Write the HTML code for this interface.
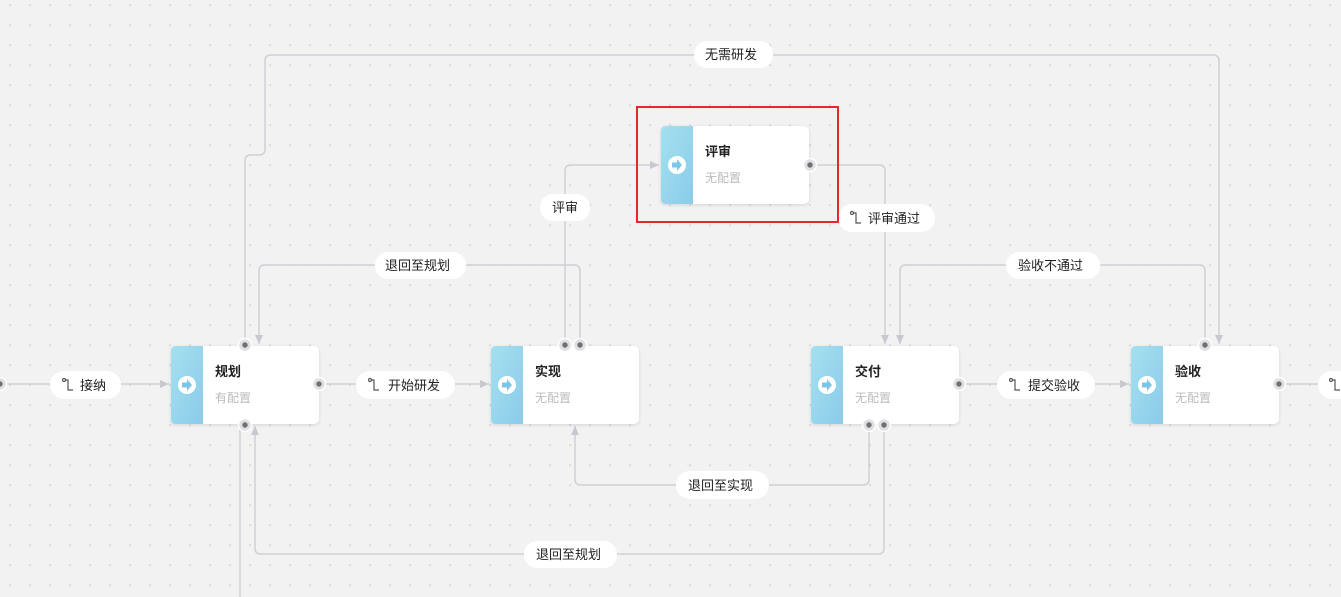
<!DOCTYPE html>
<html><head><meta charset="utf-8"><style>
html,body{margin:0;padding:0;width:1341px;height:597px;overflow:hidden;background:#f2f2f2;}
svg{display:block}
text{font-family:"Liberation Sans","Noto Sans CJK SC",sans-serif;}
</style></head><body>
<svg width="1341" height="597" xmlns="http://www.w3.org/2000/svg">
<defs>
<pattern id="dots" x="0" y="0" width="20" height="20" patternUnits="userSpaceOnUse">
<rect x="9.4" y="4.4" width="1.5" height="1.5" fill="#cacaca"/></pattern>
<linearGradient id="g" x1="0" y1="0" x2="1" y2="1"><stop offset="0" stop-color="#a3e1f0"/><stop offset="1" stop-color="#8ccbe9"/></linearGradient>
<filter id="sh" x="-10%" y="-10%" width="120%" height="130%"><feDropShadow dx="0" dy="1" stdDeviation="1.5" flood-color="#000" flood-opacity="0.12"/></filter>
<marker id="a" markerWidth="10" markerHeight="10" refX="9" refY="4" orient="auto" markerUnits="userSpaceOnUse"><path d="M0,0 L9,4 L0,8 z" fill="#c8c8d0"/></marker>
<g id="pt"><circle cx="0" cy="0" r="6.5" fill="#e0e0e0" stroke="#fff" stroke-width="1.5"/><circle cx="0" cy="0" r="2.7" fill="#6f6f78"/></g>
<g id="ei" fill="none" stroke-width="1.2"><circle cx="0" cy="0" r="1.5" stroke="#555"/><path d="M1.5,0 H4 V10 H9" stroke="#555"/></g>
</defs>
<rect width="1341" height="597" fill="url(#dots)"/>
<g fill="none" stroke="#cfcfd6" stroke-width="1.5">
<path d="M0,384 H169" marker-end="url(#a)"/>
<path d="M320,384 H489" marker-end="url(#a)"/>
<path d="M960,384 H1129" marker-end="url(#a)"/>
<path d="M1280,384 H1330"/>
<path d="M565,345 V171 Q565,165 571,165 H659" marker-end="url(#a)"/>
<path d="M580,345 V271 Q580,265 574,265 H265 Q259,265 259,271 V344" marker-end="url(#a)"/>
<path d="M811,165 H879 Q885,165 885,171 V344" marker-end="url(#a)"/>
<path d="M245,345 V161 Q245,155 251,155 H259 Q265,155 265,149 V61 Q265,55 271,55 H1213 Q1219,55 1219,61 V344" marker-end="url(#a)"/>
<path d="M1205,345 V271 Q1205,265 1199,265 H906 Q900,265 900,271 V344" marker-end="url(#a)"/>
<path d="M869,425 V479 Q869,485 863,485 H581 Q575,485 575,479 V426" marker-end="url(#a)"/>
<path d="M884,425 V548 Q884,554 878,554 H261 Q255,554 255,548 V426" marker-end="url(#a)"/>
<path d="M240,425 V597"/>
</g>
<g filter="url(#sh)">
<g transform="translate(171,346)"><rect width="148" height="78" rx="5" fill="#fff"/><path d="M5,0 H32 V78 H5 Q0,78 0,73 V5 Q0,0 5,0z" fill="url(#g)"/></g>
<g transform="translate(491,346)"><rect width="148" height="78" rx="5" fill="#fff"/><path d="M5,0 H32 V78 H5 Q0,78 0,73 V5 Q0,0 5,0z" fill="url(#g)"/></g>
<g transform="translate(811,346)"><rect width="148" height="78" rx="5" fill="#fff"/><path d="M5,0 H32 V78 H5 Q0,78 0,73 V5 Q0,0 5,0z" fill="url(#g)"/></g>
<g transform="translate(1131,346)"><rect width="148" height="78" rx="5" fill="#fff"/><path d="M5,0 H32 V78 H5 Q0,78 0,73 V5 Q0,0 5,0z" fill="url(#g)"/></g>
<g transform="translate(661,126)"><rect width="148" height="78" rx="5" fill="#fff"/><path d="M5,0 H32 V78 H5 Q0,78 0,73 V5 Q0,0 5,0z" fill="url(#g)"/></g>
</g>
<g font-size="13">
<text x="215" y="376" font-weight="bold" fill="#222">规划</text><text x="215" y="402" fill="#bbb" font-size="12">有配置</text>
<text x="535" y="376" font-weight="bold" fill="#222">实现</text><text x="535" y="402" fill="#bbb" font-size="12">无配置</text>
<text x="855" y="376" font-weight="bold" fill="#222">交付</text><text x="855" y="402" fill="#bbb" font-size="12">无配置</text>
<text x="1175" y="376" font-weight="bold" fill="#222">验收</text><text x="1175" y="402" fill="#bbb" font-size="12">无配置</text>
<text x="705" y="156" font-weight="bold" fill="#222">评审</text><text x="705" y="182" fill="#bbb" font-size="12">无配置</text>
</g>
<g>
<g id="ic"><circle cx="187" cy="385" r="9" fill="#fff"/><path d="M182,382.5 H187 V379 L192,385 L187,391 V387.5 H182z" fill="#7cc6e8"/></g>
<use href="#ic" x="320"/><use href="#ic" x="640"/><use href="#ic" x="960"/><use href="#ic" x="490" y="-220"/>
</g>
<g>
<use href="#pt" x="0" y="384"/><use href="#pt" x="319" y="384"/><use href="#pt" x="245" y="345"/><use href="#pt" x="245" y="425"/>
<use href="#pt" x="565" y="345"/><use href="#pt" x="580" y="345"/><use href="#pt" x="810" y="165"/>
<use href="#pt" x="959" y="384"/><use href="#pt" x="869" y="425"/><use href="#pt" x="884" y="425"/>
<use href="#pt" x="1205" y="345"/><use href="#pt" x="1279" y="384"/>
</g>
<g font-size="13" fill="#222">
<rect x="50" y="371" width="71" height="28" rx="14" fill="#fff"/><text x="80" y="390">接纳</text>
<rect x="356" y="371" width="99" height="28" rx="14" fill="#fff"/><text x="388" y="390">开始研发</text>
<rect x="997" y="371" width="98" height="28" rx="14" fill="#fff"/><text x="1028" y="390">提交验收</text>
<rect x="1318" y="371" width="40" height="28" rx="14" fill="#fff"/>
<rect x="838" y="204" width="97" height="28" rx="14" fill="#fff"/><text x="868" y="223">评审通过</text>
<rect x="540" y="194" width="50" height="27" rx="13" fill="#fff"/><text x="552" y="212">评审</text>
<rect x="375" y="252" width="91" height="27" rx="13" fill="#fff"/><text x="385" y="270">退回至规划</text>
<rect x="694" y="41" width="79" height="27" rx="13" fill="#fff"/><text x="705" y="59">无需研发</text>
<rect x="1006" y="252" width="94" height="27" rx="13" fill="#fff"/><text x="1018" y="270">验收不通过</text>
<rect x="676" y="471" width="93" height="28" rx="14" fill="#fff"/><text x="688" y="490">退回至实现</text>
<rect x="524" y="541" width="93" height="27" rx="13" fill="#fff"/><text x="536" y="559">退回至规划</text>
<use href="#ei" x="64" y="380"/><use href="#ei" x="370" y="380"/><use href="#ei" x="1011" y="380"/><use href="#ei" x="1331" y="380"/><use href="#ei" x="852" y="213"/>
</g>
<rect x="637" y="107" width="201" height="115" fill="none" stroke="#e8262d" stroke-width="2"/>
</svg>
</body></html>
